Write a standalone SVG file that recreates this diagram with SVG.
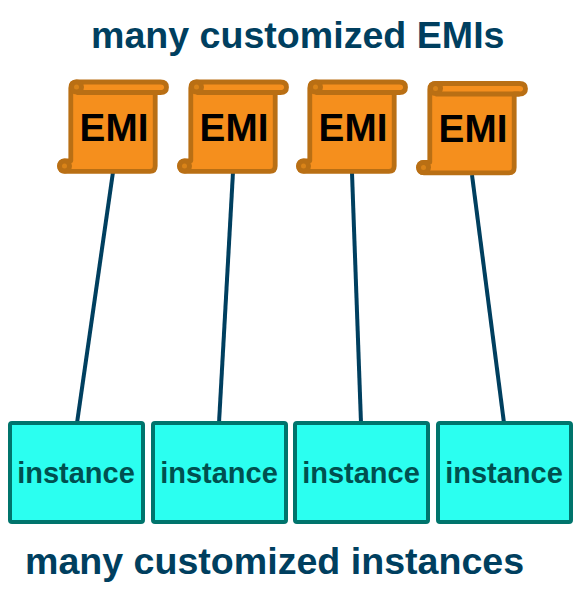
<svg xmlns="http://www.w3.org/2000/svg" width="581" height="606" viewBox="0 0 581 606">
<style>
.t{font-family:"Liberation Sans",Arial,sans-serif;font-weight:700}
.h{font-size:37.600px;fill:#003f5f}
.e{font-size:38.700px;fill:#000;text-anchor:middle}
.i{font-size:29px;fill:#00504f;text-anchor:middle}
.box{fill:#2bfff0;stroke:#00746c;stroke-width:4}
.s{fill:#f58f1d;stroke:#b96f14;stroke-width:4.800;stroke-linejoin:round}
.d{fill:#b96f14}
.f{fill:#d98318}
.c{stroke:#003f5f;stroke-width:4;fill:none}
</style>
<defs>
<g id="scroll">
<path class="s" d="M70.800 160.800V88Q70.800 82 77 82H160.500Q166.500 82 166.500 87.300Q166.500 92.500 160.500 92.500H155.200V166Q155.200 171.300 150 171.300H65Q59.800 171.300 59.800 166Q59.800 160.800 65 160.800Z"/>
<circle class="d" cx="76.500" cy="87" r="7.500"/>
<circle class="f" cx="76.500" cy="87" r="2.500"/>
<circle class="d" cx="64.500" cy="166" r="7.500"/>
<circle class="f" cx="64.500" cy="166" r="2.500"/>
<path class="s" style="fill:none" d="M76.500 92.500H160.500"/>
</g>
</defs>
<text class="t h" x="91" y="48">many customized EMIs</text>
<g id="connectors">
<line class="c" x1="113" y1="172" x2="77" y2="423"/>
<line class="c" x1="233" y1="172" x2="219" y2="423"/>
<line class="c" x1="352" y1="173" x2="361" y2="423"/>
<line class="c" x1="472" y1="175" x2="504" y2="423"/>
</g>
<g id="emi1"><use href="#scroll"/><text class="t e" x="114" y="140.500">EMI</text></g>
<g id="emi2"><use href="#scroll" x="120"/><text class="t e" x="234" y="140.500">EMI</text></g>
<g id="emi3"><use href="#scroll" x="239"/><text class="t e" x="353" y="140.500">EMI</text></g>
<g id="emi4"><use href="#scroll" x="359" y="1.500"/><text class="t e" x="473" y="141.500">EMI</text></g>
<g id="inst1"><rect class="box" x="10" y="423" width="133" height="99" rx="2"/><text class="t i" x="76" y="483">instance</text></g>
<g id="inst2"><rect class="box" x="153" y="423" width="133" height="99" rx="2"/><text class="t i" x="219" y="483">instance</text></g>
<g id="inst3"><rect class="box" x="295" y="423" width="133" height="99" rx="2"/><text class="t i" x="361" y="483">instance</text></g>
<g id="inst4"><rect class="box" x="438" y="423" width="133" height="99" rx="2"/><text class="t i" x="504" y="483">instance</text></g>
<text class="t h" x="25" y="574">many customized instances</text>
</svg>
